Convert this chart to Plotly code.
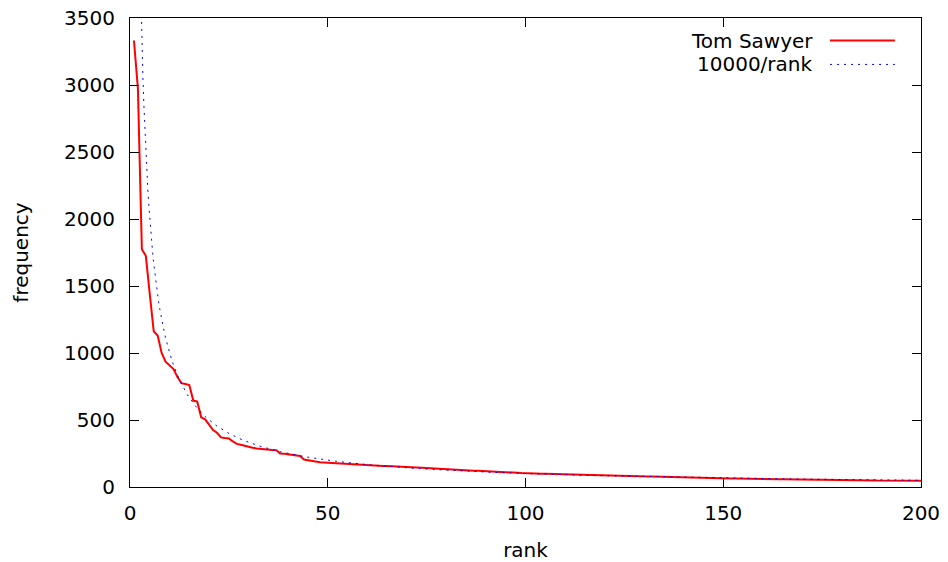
import plotly.graph_objects as go

# rank / frequency data (Tom Sawyer word counts)
ranks = list(range(1, 201))
freq = [
    3332, 2972, 1775, 1725, 1440, 1161, 1130, 1000, 935, 910,
    880, 820, 775, 768, 761, 645, 637, 520, 505, 465,
    425, 405, 370, 365, 362, 340, 322, 315, 306, 298,
    293, 288, 284, 280, 278, 276, 274, 250, 248, 244,
    240, 234, 232, 205, 200, 192, 186, 184, 183, 181,
    178, 177, 175, 174, 172, 171, 170, 169, 166, 164,
    162, 160, 158, 157, 156, 155, 154, 153, 152, 149,
    146, 144, 143, 142, 141, 139, 137, 135, 134, 133,
    132, 130, 128, 127, 126, 124, 122, 121, 120, 118,
    116, 115, 114, 113, 111, 109, 107, 106, 104, 102,
    101, 100, 100, 99, 98, 97, 97, 96, 95, 94,
    93, 93, 92, 92, 91, 90, 89, 88, 87, 86,
    85, 84, 83, 82, 82, 81, 81, 80, 80, 79,
    78, 78, 77, 77, 76, 75, 74, 73, 73, 72,
    71, 70, 70, 69, 68, 68, 67, 67, 66, 65,
    65, 64, 64, 63, 63, 62, 62, 61, 61, 60,
    60, 59, 59, 58, 58, 57, 57, 56, 56, 56,
    55, 55, 55, 54, 54, 54, 53, 53, 52, 52,
    51, 51, 50, 50, 50, 49, 49, 49, 48, 48,
    48, 48, 48, 47, 47, 47, 47, 47, 47, 47,
]

# reference curve, as named in the legend: 10000/rank
zipf_k = 10000
zipf_x = [r / 4 for r in range(4, 801)]
zipf_y = [zipf_k / x for x in zipf_x]

font = "DejaVu Sans"
dotted = dict(color="#0000ff", width=1, dash="2px,5px")

fig = go.Figure()
fig.add_trace(go.Scatter(x=ranks, y=freq, mode="lines", name="Tom Sawyer",
                         line=dict(color="#ff0000", width=2)))
fig.add_trace(go.Scatter(x=zipf_x, y=zipf_y, mode="lines", name="10000/rank",
                         line=dotted))

axis_common = dict(
    showline=True, linecolor="black", linewidth=1, mirror="allticks",
    ticks="inside", ticklen=9, tickcolor="black", tickwidth=1,
    showgrid=False, zeroline=False, automargin=False,
    ticklabeloverflow="allow",
    tickfont=dict(family=font, size=20, color="black"),
)
fig.update_xaxes(range=[0, 200], dtick=50, ticklabelstandoff=8,
                 title=dict(text="rank", standoff=18,
                            font=dict(family=font, size=20, color="black")),
                 **axis_common)
fig.update_yaxes(range=[0, 3500], dtick=500, ticklabelstandoff=10,
                 title=dict(text="frequency", standoff=30,
                            font=dict(family=font, size=20, color="black")),
                 **axis_common)

# gnuplot-style key: text on the left, line sample on the right
key = [("Tom Sawyer", 0.952, dict(color="#ff0000", width=2)),
       ("10000/rank", 0.901, dotted)]
for label, ky, ln in key:
    fig.add_annotation(xref="paper", yref="paper", x=0.866, y=ky, text=label,
                       showarrow=False, xanchor="right", yanchor="middle",
                       font=dict(family=font, size=20, color="black"))
    fig.add_shape(type="line", xref="paper", yref="paper",
                  x0=0.885, x1=0.967, y0=ky, y1=ky, line=ln)

# the page body adds an 8px offset, so margins are shifted to compensate
fig.update_layout(
    width=948, height=562,
    margin=dict(l=122, r=35, t=10, b=83),
    paper_bgcolor="white", plot_bgcolor="white",
    showlegend=False,
    font=dict(family=font, size=20, color="black"),
)

fig.write_html("out.html")
